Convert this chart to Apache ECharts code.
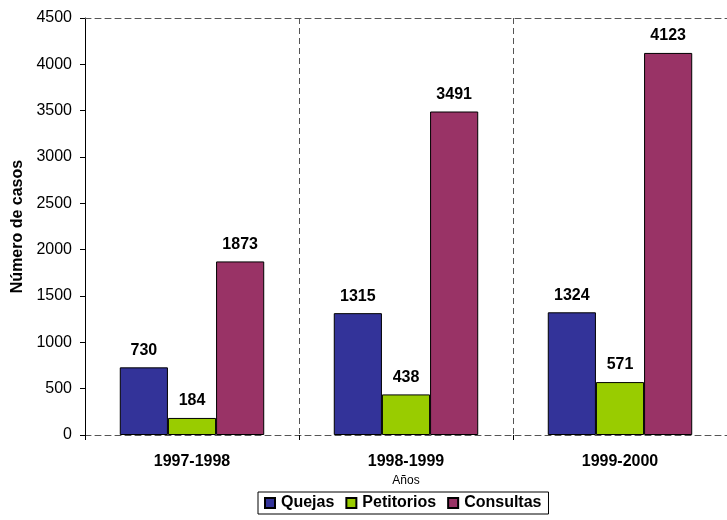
<!DOCTYPE html>
<html><head><meta charset="utf-8">
<script src="https://cdn.jsdelivr.net/npm/echarts@6/dist/echarts.min.js"></script>
<style>html,body{margin:0;padding:0;background:#fff}#c{width:727px;height:520px}</style>
</head><body><div id="c"></div>
<script>
const categories = ['1997-1998', '1998-1999', '1999-2000'];
const quejas = [730, 1315, 1324];
const petitorios = [184, 438, 571];
const consultas = [1873, 3491, 4123];
const seriesNames = ['Quejas', 'Petitorios', 'Consultas'];
const colors = ['#333399', '#99CC00', '#993366'];
const F = '"Liberation Sans", Arial, sans-serif';

const chart = echarts.init(document.getElementById('c'));
const mk = (name, data, color) => ({
  name, type: 'bar', data, barGap: 0, barCategoryGap: '32.5%',
  itemStyle: { color, borderColor: '#000', borderWidth: 1 },
  label: { show: true, position: 'top', distance: 9, fontFamily: F, fontSize: 16, fontWeight: 'bold', color: '#000' }
});
chart.setOption({
  animation: false,
  textStyle: { fontFamily: F },
  grid: { left: 85, right: 0, top: 18, bottom: 85 },
  legend: {
    left: 258, top: 492, padding: [3, 7, 3, 6], itemGap: 11, itemWidth: 10, itemHeight: 10,
    borderColor: '#000', borderWidth: 1, icon: 'rect',
    textStyle: { fontFamily: F, fontSize: 16, fontWeight: 'bold', color: '#000', padding: [0, 0, 0, 1] },
    data: seriesNames
  },
  xAxis: [{
    type: 'category', data: categories, name: 'Años', nameLocation: 'middle', nameGap: 34,
    nameTextStyle: { fontFamily: F, fontSize: 12, color: '#000' },
    axisLine: { lineStyle: { color: '#555', type: [6, 4], width: 1 } },
    axisTick: { show: true, length: 5, lineStyle: { color: '#000' } },
    axisLabel: { margin: 19, fontFamily: F, fontSize: 16, fontWeight: 'bold', color: '#000' },
    splitLine: { show: true, lineStyle: { color: '#555', type: [6, 4] } }
  }, {
    type: 'category', data: categories, position: 'top',
    axisLine: { lineStyle: { color: '#555', type: [6, 4] } },
    axisTick: { show: false }, axisLabel: { show: false }, splitLine: { show: false }
  }],
  yAxis: {
    type: 'value', min: 0, max: 4500, interval: 500,
    name: 'Número de casos', nameLocation: 'middle', nameGap: 58,
    nameTextStyle: { fontFamily: F, fontSize: 16, fontWeight: 'bold', color: '#000' },
    axisLine: { show: true, lineStyle: { color: '#000' } },
    axisTick: { show: true, length: 5, lineStyle: { color: '#000' } },
    axisLabel: { margin: 13, fontFamily: F, fontSize: 16, color: '#000', formatter: v => String(v) },
    splitLine: { show: false }
  },
  series: [mk(seriesNames[0], quejas, colors[0]), mk(seriesNames[1], petitorios, colors[1]), mk(seriesNames[2], consultas, colors[2])]
});
</script></body></html>
